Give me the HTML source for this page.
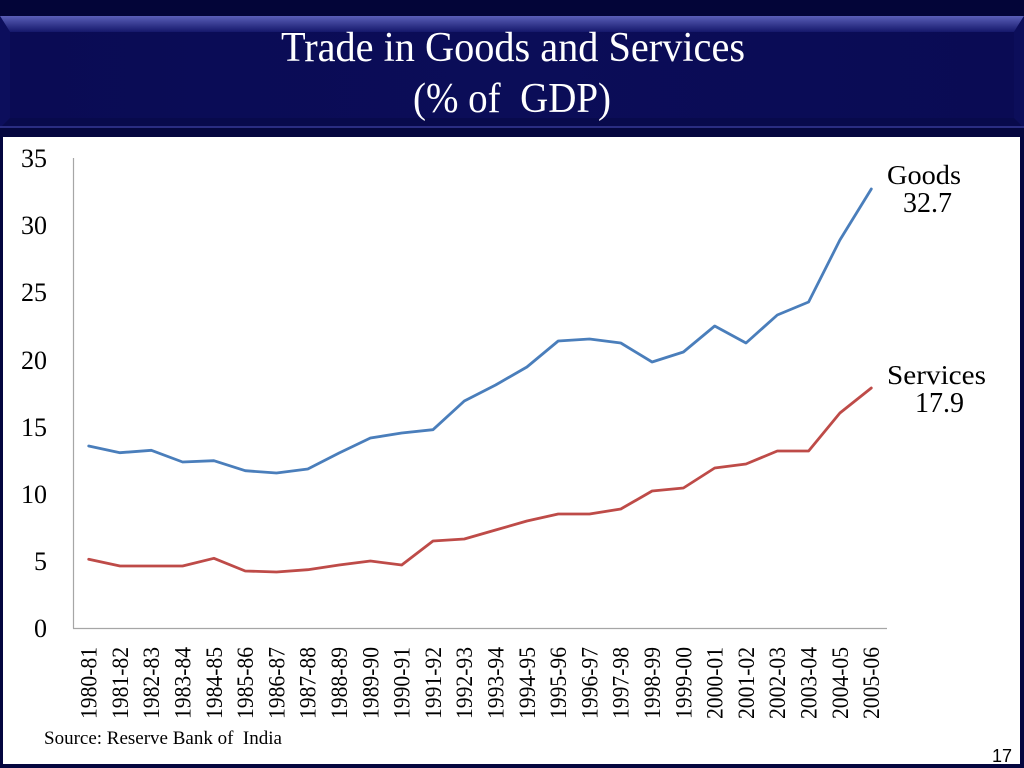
<!DOCTYPE html>
<html><head><meta charset="utf-8"><style>
html,body{margin:0;padding:0;background:#04063f;}
svg{display:block;}
</style></head><body>
<svg width="1024" height="768" viewBox="0 0 1024 768" xmlns="http://www.w3.org/2000/svg">
<defs>
<linearGradient id="topbev" x1="0" y1="0" x2="0" y2="1">
<stop offset="0" stop-color="#5a5fb8"/><stop offset="1" stop-color="#15186b"/>
</linearGradient>
<linearGradient id="hdr" x1="0" y1="0" x2="1" y2="0">
<stop offset="0" stop-color="#0a0b54"/><stop offset="0.5" stop-color="#0b0d58"/><stop offset="1" stop-color="#0a0b54"/>
</linearGradient>
</defs>
<rect x="0" y="0" width="1024" height="768" fill="#04063f"/>
<rect x="0" y="0" width="1024" height="16" fill="#030538"/>
<!-- header banner -->
<rect x="0" y="16" width="1024" height="112" fill="url(#hdr)"/>
<polygon points="0,16 1024,16 1014,32 10,32" fill="url(#topbev)"/>
<polygon points="0,16 10,32 10,118 0,128" fill="#0c0e5c"/>
<polygon points="1024,16 1014,32 1014,118 1024,128" fill="#0c0e5a"/>
<polygon points="0,128 10,118 1014,118 1024,128" fill="#080a4c"/>
<rect x="0" y="126" width="1024" height="2" fill="#2a2d82"/>
<rect x="0" y="128" width="1024" height="9" fill="#05073f"/>
<text x="281" y="61" font-family="Liberation Serif, serif" font-size="42" fill="#ffffff" textLength="464" lengthAdjust="spacingAndGlyphs">Trade in Goods and Services</text>
<text x="413" y="112" font-family="Liberation Serif, serif" font-size="42" fill="#ffffff" textLength="198" lengthAdjust="spacingAndGlyphs" xml:space="preserve">(% of  GDP)</text>
<!-- white panel -->
<rect x="3" y="137" width="1017" height="627" fill="#ffffff"/>
<!-- axes -->
<line x1="73.5" y1="158" x2="73.5" y2="628.5" stroke="#a6a6a6" stroke-width="1.2"/>
<line x1="73" y1="628.5" x2="887" y2="628.5" stroke="#a6a6a6" stroke-width="1.2"/>
<!-- y labels -->
<g font-family="Liberation Serif, serif" font-size="26" fill="#000" text-anchor="end">
<text x="47" y="167">35</text>
<text x="47" y="234">30</text>
<text x="47" y="301">25</text>
<text x="47" y="369">20</text>
<text x="47" y="436">15</text>
<text x="47" y="503">10</text>
<text x="47" y="570">5</text>
<text x="47" y="637">0</text>
</g>
<!-- series -->
<polyline fill="none" stroke="#4a7ebb" stroke-width="2.8" stroke-linejoin="round" stroke-linecap="round"
points="88.7,446 120.0,452.7 151.3,450.3 182.6,462 213.9,460.7 245.2,470.7 276.5,473 307.8,469 339.1,453 370.4,438 401.7,433 433.0,429.7 464.3,401 495.6,385 526.9,367 558.2,341 589.5,339 620.8,343 652.1,362 683.4,352 714.7,326 746.0,343 777.3,315 808.6,302 839.9,240 871.3,189"/>
<polyline fill="none" stroke="#be4b48" stroke-width="2.8" stroke-linejoin="round" stroke-linecap="round"
points="88.7,559.3 120.0,566 151.3,566 182.6,566 213.9,558.3 245.2,571 276.5,572 307.8,569.7 339.1,565 370.4,561 401.7,565 433.0,541 464.3,539 495.6,530 526.9,521 558.2,514 589.5,514 620.8,509 652.1,491 683.4,488 714.7,468 746.0,464 777.3,451 808.6,451 839.9,413 871.3,388"/>
<!-- series labels -->
<g font-family="Liberation Serif, serif" fill="#000" text-anchor="start">
<text x="887" y="184" font-size="27" textLength="74" lengthAdjust="spacingAndGlyphs">Goods</text>
<text x="903" y="212" font-size="28" textLength="49" lengthAdjust="spacingAndGlyphs">32.7</text>
<text x="887" y="384" font-size="27" textLength="99" lengthAdjust="spacingAndGlyphs">Services</text>
<text x="915" y="412" font-size="28" textLength="49" lengthAdjust="spacingAndGlyphs">17.9</text>
</g>
<!-- x labels -->
<g font-family="Liberation Serif, serif" font-size="23" fill="#000" text-anchor="end">
<text transform="translate(96.6,647) rotate(-90)" textLength="72" lengthAdjust="spacingAndGlyphs">1980-81</text>
<text transform="translate(127.9,647) rotate(-90)" textLength="72" lengthAdjust="spacingAndGlyphs">1981-82</text>
<text transform="translate(159.2,647) rotate(-90)" textLength="72" lengthAdjust="spacingAndGlyphs">1982-83</text>
<text transform="translate(190.5,647) rotate(-90)" textLength="72" lengthAdjust="spacingAndGlyphs">1983-84</text>
<text transform="translate(221.8,647) rotate(-90)" textLength="72" lengthAdjust="spacingAndGlyphs">1984-85</text>
<text transform="translate(253.1,647) rotate(-90)" textLength="72" lengthAdjust="spacingAndGlyphs">1985-86</text>
<text transform="translate(284.4,647) rotate(-90)" textLength="72" lengthAdjust="spacingAndGlyphs">1986-87</text>
<text transform="translate(315.7,647) rotate(-90)" textLength="72" lengthAdjust="spacingAndGlyphs">1987-88</text>
<text transform="translate(347.0,647) rotate(-90)" textLength="72" lengthAdjust="spacingAndGlyphs">1988-89</text>
<text transform="translate(378.3,647) rotate(-90)" textLength="72" lengthAdjust="spacingAndGlyphs">1989-90</text>
<text transform="translate(409.6,647) rotate(-90)" textLength="72" lengthAdjust="spacingAndGlyphs">1990-91</text>
<text transform="translate(440.9,647) rotate(-90)" textLength="72" lengthAdjust="spacingAndGlyphs">1991-92</text>
<text transform="translate(472.2,647) rotate(-90)" textLength="72" lengthAdjust="spacingAndGlyphs">1992-93</text>
<text transform="translate(503.5,647) rotate(-90)" textLength="72" lengthAdjust="spacingAndGlyphs">1993-94</text>
<text transform="translate(534.8,647) rotate(-90)" textLength="72" lengthAdjust="spacingAndGlyphs">1994-95</text>
<text transform="translate(566.1,647) rotate(-90)" textLength="72" lengthAdjust="spacingAndGlyphs">1995-96</text>
<text transform="translate(597.4,647) rotate(-90)" textLength="72" lengthAdjust="spacingAndGlyphs">1996-97</text>
<text transform="translate(628.7,647) rotate(-90)" textLength="72" lengthAdjust="spacingAndGlyphs">1997-98</text>
<text transform="translate(660.0,647) rotate(-90)" textLength="72" lengthAdjust="spacingAndGlyphs">1998-99</text>
<text transform="translate(691.3,647) rotate(-90)" textLength="72" lengthAdjust="spacingAndGlyphs">1999-00</text>
<text transform="translate(722.6,647) rotate(-90)" textLength="72" lengthAdjust="spacingAndGlyphs">2000-01</text>
<text transform="translate(753.9,647) rotate(-90)" textLength="72" lengthAdjust="spacingAndGlyphs">2001-02</text>
<text transform="translate(785.2,647) rotate(-90)" textLength="72" lengthAdjust="spacingAndGlyphs">2002-03</text>
<text transform="translate(816.5,647) rotate(-90)" textLength="72" lengthAdjust="spacingAndGlyphs">2003-04</text>
<text transform="translate(847.8,647) rotate(-90)" textLength="72" lengthAdjust="spacingAndGlyphs">2004-05</text>
<text transform="translate(879.1,647) rotate(-90)" textLength="72" lengthAdjust="spacingAndGlyphs">2005-06</text>
</g>
<text x="44" y="744" font-family="Liberation Serif, serif" font-size="19" fill="#000" xml:space="preserve">Source: Reserve Bank of  India</text>
<text x="1012" y="762" font-family="Liberation Sans, sans-serif" font-size="18" fill="#000" text-anchor="end">17</text>
</svg>
</body></html>
